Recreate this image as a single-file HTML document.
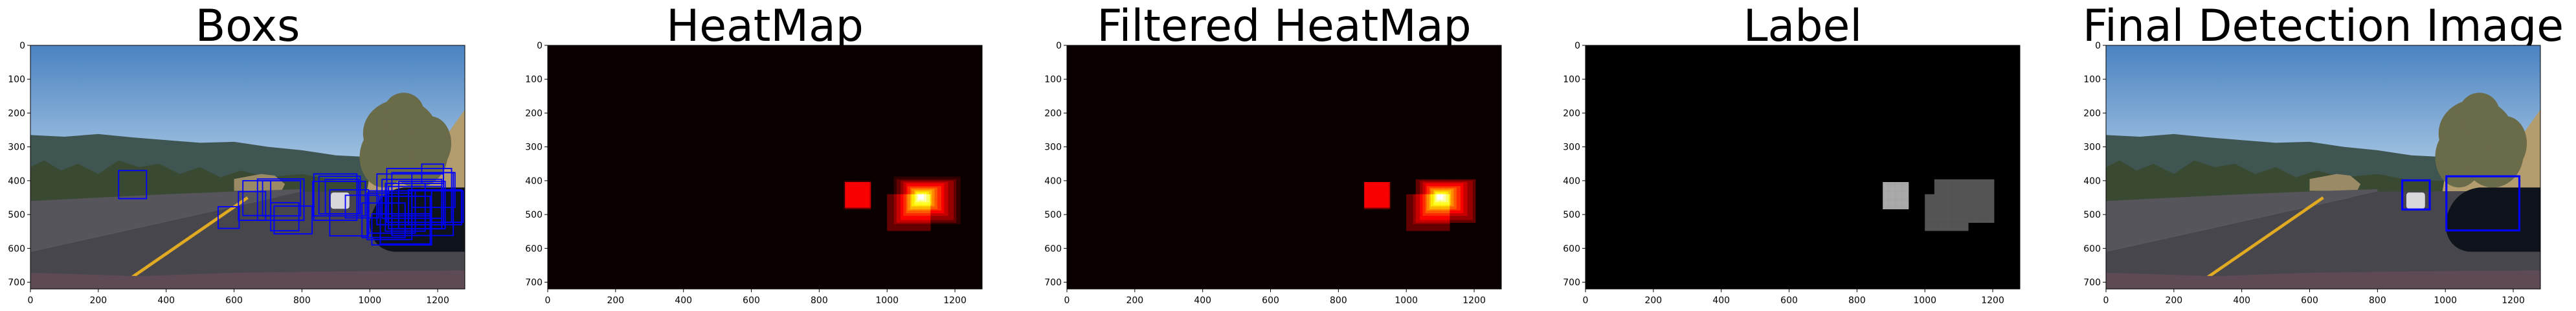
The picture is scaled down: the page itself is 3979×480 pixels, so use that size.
<!DOCTYPE html>
<html><head><meta charset="utf-8"><style>
html,body{margin:0;padding:0;background:#fff;width:3979px;height:480px;overflow:hidden}
svg text{font-family:"DejaVu Sans","Liberation Sans",sans-serif}
</style></head><body>
<svg id="fig" width="3979" height="480" xmlns="http://www.w3.org/2000/svg">
<defs>
<linearGradient id="sky" x1="0" y1="0" x2="0" y2="1">
<stop offset="0" stop-color="#4b83c1"/><stop offset="1" stop-color="#9dbfe0"/></linearGradient>
</defs>
</svg>
<script>
const NS="http://www.w3.org/2000/svg";
const fig=document.getElementById('fig');
const panelLefts=[47,846,1648,2449,3253];
const titles=["Boxs","HeatMap","Filtered HeatMap","Label","Final Detection Image"];
const xTicks=[0,200,400,600,800,1000,1200];
const yTicks=[0,100,200,300,400,500,600,700];
const IMG_W=1280, IMG_H=720;
// detection boxes (x1,y1,x2,y2) in image coords
const boxX1=[260,553,626,613,669,684,708,718,835,832,850,869,882,928,1021,1050,1065,1153,1036,992,977,1006,1031,1114,1182,1046,1085,1065,1124,997,1055];
const boxY1=[370,477,400,432,395,400,465,475,380,402,387,396,427,443,380,364,376,351,396,437,466,498,446,427,430,408,402,430,376,430,417];
const boxX2=[342,615,708,693,806,796,791,830,962,987,972,967,996,1026,1217,1241,1246,1217,1212,1124,1104,1182,1178,1270,1275,1163,1222,1182,1251,1134,1212];
const boxY2=[453,541,503,517,517,504,548,557,517,504,498,498,563,510,530,523,562,408,511,574,568,590,587,530,523,549,542,504,479,555,542];
// heat sources
const heatX1=[874,876,878,876,875,1000,1000,1020,1030,1040,1048,1055,1062,1068,1074,1080,1085,1090,1094];
const heatY1=[402,404,406,403,405,440,440,390,395,400,405,410,415,420,425,430,434,438,442];
const heatX2=[954,952,950,953,951,1130,1130,1215,1205,1195,1180,1170,1160,1150,1142,1134,1126,1118,1110];
const heatY2=[484,482,480,483,481,550,550,530,525,515,505,498,490,483,477,471,466,462,458];
const heatGroup=[1,1,1,1,1,2,2,2,2,2,2,2,2,2,2,2,2,2,2];
const heatThreshold=1;
const labelColors=["#000000","#aaaaaa","#555555"];
// final detections
const detX1=[873,1003], detY1=[399,387], detX2=[954,1218], detY2=[485,547];

const AX_W=671, AX_H=376, AX_T=70;
function el(tag,attrs,parent){const e=document.createElementNS(NS,tag);for(const k in attrs)e.setAttribute(k,attrs[k]);(parent||fig).appendChild(e);return e;}

function photo(g){
  el('rect',{x:0,y:0,width:1280,height:720,fill:'#9dbfe0'},g);
  el('rect',{x:0,y:0,width:1280,height:330,fill:'url(#sky)'},g);
  el('polygon',{points:'0,265 100,270 200,262 300,272 400,280 500,288 600,285 700,300 800,310 900,325 1000,330 1000,440 0,470',fill:'#3f5552'},g);
  el('polygon',{points:'0,360 40,340 90,370 140,350 200,380 260,340 320,360 380,350 440,380 500,360 560,390 620,370 700,390 800,380 900,400 1000,400 1000,440 0,470',fill:'#3a4a32'},g);
  el('polygon',{points:'600,395 680,380 720,385 750,410 740,430 600,430',fill:'#9b8a66'},g);
  el('polygon',{points:'990,440 1000,380 1100,360 1180,330 1280,190 1280,470 990,470',fill:'#b39c6e'},g);
  [[1090,260,110,100],[1040,330,70,90],[1140,320,90,100],[1100,200,60,60],[1180,290,60,80]].forEach(e=>
    el('ellipse',{cx:e[0],cy:e[1],rx:e[2],ry:e[3],fill:'#6a6b48'},g));
  el('polygon',{points:'0,460 400,440 650,430 800,425 800,432 0,610',fill:'#55555b'},g);
  el('polygon',{points:'0,610 800,432 1280,430 1280,720 0,720',fill:'#47464d'},g);
  el('line',{x1:300,y1:685,x2:640,y2:450,stroke:'#e0aa22','stroke-width':9},g);
  el('polygon',{points:'0,672 200,678 320,682 600,672 900,668 1280,665 1280,720 0,720',fill:'#5d4a55'},g);
  el('rect',{x:885,y:435,width:55,height:48,rx:8,fill:'#d8d8dc'},g);
  el('path',{d:'M1000,520 Q1020,430 1100,420 L1280,420 L1280,610 L1070,610 Q1000,600 1000,520Z',fill:'#0f131c'},g);
}
function hotColor(v){
  const r=Math.min(1,v/0.365),gg=Math.max(0,Math.min(1,(v-0.365)/0.381)),b=Math.max(0,Math.min(1,(v-0.746)/0.254));
  return `rgb(${Math.round(r*255)},${Math.round(gg*255)},${Math.round(b*255)})`;
}
function heatAt(x,y){let c=0,grp=0;for(let i=0;i<heatX1.length;i++){if(x>=heatX1[i]&&x<heatX2[i]&&y>=heatY1[i]&&y<heatY2[i]){c++;grp=heatGroup[i];}}return [c,grp];}

panelLefts.forEach((L,p)=>{
  const sx=v=>L+v*AX_W/IMG_W, sy=v=>AX_T+v*AX_H/IMG_H;
  const ax=el('g',{});
  
  
  const t=el('text',{x:L+AX_W/2,y:63,'font-size':68,'text-anchor':'middle',fill:'#000'},ax);
  t.textContent=titles[p];
  
  
  const img=el('svg',{x:L,y:AX_T,width:AX_W,height:AX_H,viewBox:'0 0 1280 720',preserveAspectRatio:'none'},ax);
  
  
  if(p===0||p===4){photo(img);}
  else{
    el('rect',{x:0,y:0,width:1280,height:720,fill:p===3?'#000':'#0b0000'},img);
    let max=0;
    for(let y=380;y<560;y+=2)for(let x=860;x<1230;x+=2){max=Math.max(max,heatAt(x,y)[0]);}
    const step=4;
    for(let y=380;y<560;y+=step)for(let x=860;x<1230;x+=step){
      let [c,grp]=heatAt(x+step/2,y+step/2);
      if(p>=2&&c<=heatThreshold)c=0;
      if(c===0)continue;
      const col=p===3?labelColors[grp]:hotColor(c/max);
      el('rect',{x:x,y:y,width:step+0.5,height:step+0.5,fill:col},img);
    }
  }
  if(p===0){
    for(let i=0;i<boxX1.length;i++){
      const r=el('rect',{x:boxX1[i],y:boxY1[i],width:boxX2[i]-boxX1[i],height:boxY2[i]-boxY1[i],fill:'none',stroke:'#0000ff','stroke-width':3.5},img);
      
      
    }
  }
  if(p===4){
    for(let i=0;i<detX1.length;i++){
      const r=el('rect',{x:detX1[i],y:detY1[i],width:detX2[i]-detX1[i],height:detY2[i]-detY1[i],fill:'none',stroke:'#0000ff','stroke-width':6},img);
      
      
    }
  }
  el('rect',{x:L,y:AX_T,width:AX_W,height:AX_H,fill:'none',stroke:'#000','stroke-width':1},ax);
  xTicks.forEach(v=>{
    el('line',{x1:sx(v),y1:AX_T+AX_H,x2:sx(v),y2:AX_T+AX_H+5,stroke:'#000'},ax);
    const tt=el('text',{x:sx(v),y:AX_T+AX_H+22,'font-size':14,'text-anchor':'middle'},ax);
    tt.textContent=v;
    
    
  });
  yTicks.forEach(v=>{
    el('line',{x1:L-5,y1:sy(v),x2:L,y2:sy(v),stroke:'#000'},ax);
    const tt=el('text',{x:L-8,y:sy(v)+5,'font-size':14,'text-anchor':'end'},ax);
    tt.textContent=v;
    
    
  });
});
</script>
</body></html>
